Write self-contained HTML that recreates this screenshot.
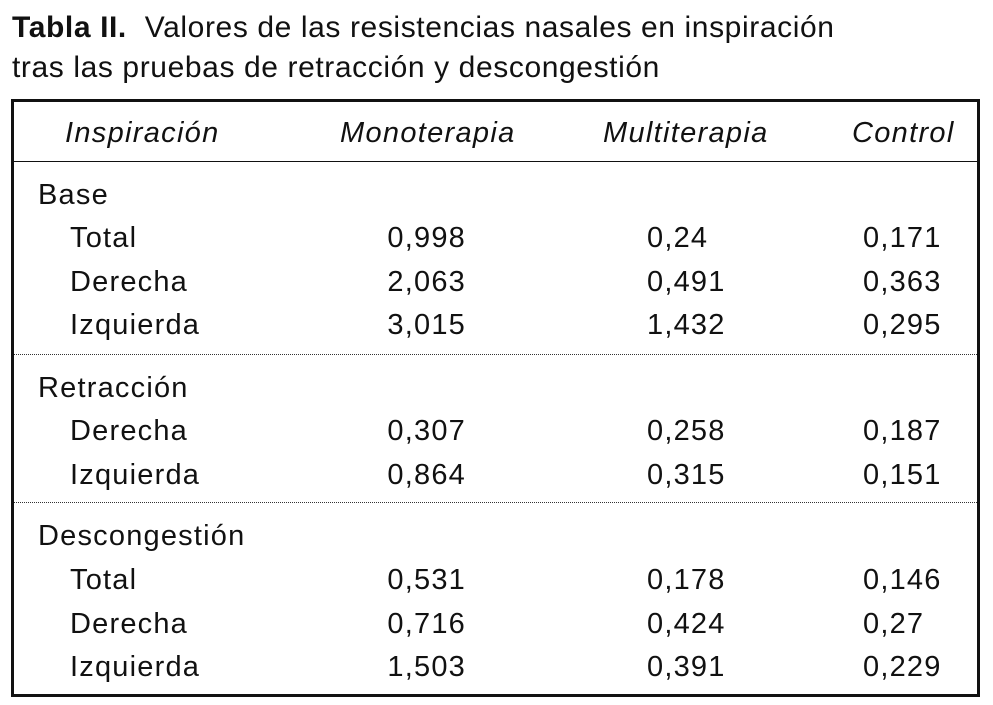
<!DOCTYPE html>
<html><head><meta charset="utf-8"><style>
body{margin:0;background:#fff;width:993px;height:705px;position:relative;font-family:"Liberation Sans",sans-serif;color:#111;overflow:hidden}
.t{position:absolute;font-size:29px;line-height:32px;white-space:nowrap;letter-spacing:1.2px}
.r{text-align:right}
.i{font-style:italic;letter-spacing:1.3px}
.ttl{position:absolute;left:12px;font-size:30px;line-height:34px;white-space:nowrap;letter-spacing:0.6px}
#box{position:absolute;left:11px;top:99px;width:963px;height:592px;border:3px solid #111}
.hl{position:absolute;left:14px;width:963px;height:0;border-top:1.5px solid #111}
.dl{position:absolute;left:14px;width:963px;height:0;border-top:1.5px dotted #333}
</style></head><body>
<div class="ttl" style="top:11px"><b>Tabla II.</b>&nbsp; Valores de las resistencias nasales en inspiración</div>
<div class="ttl" style="top:51px">tras las pruebas de retracción y descongestión</div>
<div id="box"></div>
<div class="hl" style="top:161px"></div>
<div class="dl" style="top:354px"></div>
<div class="dl" style="top:502px"></div>
<div id="rows"></div>
<script>
const headers=["Inspiración","Monoterapia","Multiterapia","Control"];
const labels=["Base","Total","Derecha","Izquierda","Retracción","Derecha","Izquierda","Descongestión","Total","Derecha","Izquierda"];
const mono=["","0,998","2,063","3,015","","0,307","0,864","","0,531","0,716","1,503"];
const multi=["","0,24","0,491","1,432","","0,258","0,315","","0,178","0,424","0,391"];
const ctrl=["","0,171","0,363","0,295","","0,187","0,151","","0,146","0,27","0,229"];
const ys=[195,238,282,325,388,431,475,536,580,624,667];
const root=document.getElementById('rows');
function add(txt,x,y,cls,name){const d=document.createElement('div');d.className='t '+cls;d.textContent=txt;d.style.left=x+'px';d.style.top=(y-16)+'px';


root.appendChild(d);return d;}
const hx=[65,340,603,852];
headers.forEach((h,k)=>add(h,hx[k],133,'i','header-'+h.toLowerCase()));
labels.forEach((l,k)=>{
  const grp=mono[k]==="";
  add(l,grp?38:70,ys[k],'',grp?'group-label':'row-label');
  if(!grp){
    const m=add(mono[k],0,ys[k],'r','monoterapia-value');m.style.left='346px';m.style.width='120px';m.style.letterSpacing='1.2px';
    add(multi[k],647,ys[k],'','multiterapia-value');
    add(ctrl[k],863,ys[k],'','control-value');
  }
});
</script>
</body></html>
